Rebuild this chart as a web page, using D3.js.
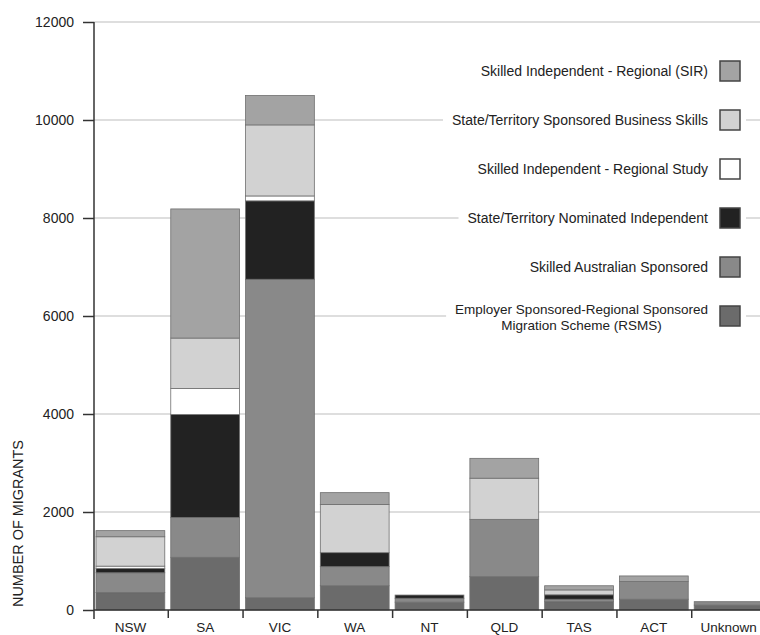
<!DOCTYPE html>
<html>
<head>
<meta charset="utf-8">
<script src="https://cdn.jsdelivr.net/npm/d3@7"></script>
<style>
  html, body { margin: 0; padding: 0; background: #fff; }
  svg { display: block; font-family: "Liberation Sans", Arial, Helvetica, sans-serif; }
</style>
</head>
<body>
<svg id="chart" width="760" height="635"></svg>
<script>
// ---- data ----
const categories = ["NSW", "SA", "VIC", "WA", "NT", "QLD", "TAS", "ACT", "Unknown"];
const seriesNames = [
  "Employer Sponsored-Regional Sponsored Migration Scheme (RSMS)",
  "Skilled Australian Sponsored",
  "State/Territory Nominated Independent",
  "Skilled Independent - Regional Study",
  "State/Territory Sponsored Business Skills",
  "Skilled Independent - Regional (SIR)"
];
const rsms      = [355, 1075,  250, 495, 160,  680, 170, 220, 100];
const sas       = [405,  815, 6500, 390,  80, 1170,  50, 360,  70];
const stni      = [ 90, 2100, 1600, 285,  65,    0,  90,   0,   0];
const regStudy  = [ 45,  530,  100,   0,   0,    0,   0,   0,   0];
const business  = [600, 1030, 1450, 985,   0,  840, 100,   0,   0];
const sir       = [125, 2635,  600, 240,   0,  405,  85, 115,   0];
const yTicks = [0, 2000, 4000, 6000, 8000, 10000, 12000];
const yAxisTitle = "NUMBER OF MIGRANTS";

// ---- styles ----
const colors = ["#6b6b6b", "#898989", "#222222", "#ffffff", "#d2d2d2", "#a3a3a3"];
const legendLines = [
  ["Employer Sponsored-Regional Sponsored", "Migration Scheme (RSMS)"],
  ["Skilled Australian Sponsored"],
  ["State/Territory Nominated Independent"],
  ["Skilled Independent - Regional Study"],
  ["State/Territory Sponsored Business Skills"],
  ["Skilled Independent - Regional (SIR)"]
];

const seriesValues = [rsms, sas, stni, regStudy, business, sir];
const rows = categories.map((c, i) => {
  const r = { cat: c };
  seriesNames.forEach((s, k) => r[s] = seriesValues[k][i]);
  return r;
});

const svg = d3.select("#chart");
const W = 760;

const y = d3.scaleLinear().domain([0, 12000]).range([610, 22]);
const x = d3.scaleBand().domain(categories).range([93, 766]).paddingInner(0.08).paddingOuter(0.04);
const xIdx = d3.scaleLinear().domain([0, categories.length]).range([93, 766]);

// gridlines
svg.append("g").selectAll("line").data(yTicks.filter(d => d > 0)).join("line")
  .attr("x1", 94).attr("x2", W)
  .attr("y1", d => y(d)).attr("y2", d => y(d))
  .attr("stroke", "#bdbdbd").attr("stroke-width", 1.2);

// bars
const stack = d3.stack().keys(seriesNames)(rows);
const gBars = svg.append("g");
stack.forEach((layer, k) => {
  gBars.append("g").selectAll("rect").data(layer.filter(d => d[1] - d[0] > 0)).join("rect")
    .attr("x", d => x(d.data.cat))
    .attr("width", x.bandwidth())
    .attr("y", d => y(d[1]))
    .attr("height", d => y(d[0]) - y(d[1]))
    .attr("fill", colors[k])
    .attr("stroke", "#6f6f6f")
    .attr("stroke-width", 0.8);
});

// y axis
const yAxis = svg.append("g").attr("transform", "translate(94,0)")
  .call(d3.axisLeft(y).tickValues(yTicks).tickFormat(d3.format("d")).tickSize(11).tickPadding(9));
yAxis.select(".domain").remove();
yAxis.selectAll(".tick line").attr("stroke", "#333").attr("stroke-width", 1.5);
yAxis.selectAll(".tick text").attr("font-size", 14).attr("fill", "#222")
  .attr("font-family", "'Liberation Sans', Arial, sans-serif");
svg.append("line").attr("x1", 94).attr("x2", 94).attr("y1", y(12000)).attr("y2", 619)
  .attr("stroke", "#333").attr("stroke-width", 1.5);

// x axis line and boundary ticks
svg.append("line").attr("x1", 94).attr("x2", W).attr("y1", y(0)).attr("y2", y(0))
  .attr("stroke", "#333").attr("stroke-width", 1.5);
const xTickAxis = svg.append("g").attr("transform", `translate(0,${y(0)})`)
  .call(d3.axisBottom(xIdx).tickValues(d3.range(1, categories.length)).tickFormat("").tickSize(8));
xTickAxis.select(".domain").remove();
xTickAxis.selectAll(".tick line").attr("stroke", "#333").attr("stroke-width", 1.5);

const xLabelAxis = svg.append("g").attr("transform", `translate(0,${y(0)})`)
  .call(d3.axisBottom(x).tickSize(0).tickPadding(12));
xLabelAxis.select(".domain").remove();
xLabelAxis.selectAll(".tick text").attr("font-size", 13.5).attr("fill", "#222")
  .attr("font-family", "'Liberation Sans', Arial, sans-serif");

// y axis title
svg.append("text")
  .attr("transform", "translate(23,607) rotate(-90)")
  .attr("text-anchor", "start")
  .attr("font-size", 14)
  .attr("fill", "#222")
  .attr("textLength", 167)
  .attr("lengthAdjust", "spacingAndGlyphs")
  .text(yAxisTitle);

// legend
const legendRight = 708, sqX = 720, sq = 20;
const legendCenters = seriesNames.map((s, k) => y(6000 + k * 1000));
const gLeg = svg.append("g");
seriesNames.forEach((s, k) => {
  const cy = legendCenters[k];
  const lines = legendLines[k];
  const g = gLeg.append("g");
  const bg = g.append("rect").attr("fill", "#fff");
  const txt = g.append("text").attr("fill", "#222");
  if (lines.length === 1) {
    txt.attr("font-size", 14);
    txt.append("tspan").attr("x", legendRight).attr("y", cy).attr("dy", "0.35em")
      .attr("text-anchor", "end").text(lines[0]);
  } else {
    txt.attr("font-size", 13.5);
    const t1 = txt.append("tspan").attr("text-anchor", "middle").attr("y", cy - 7).attr("dy", "0.35em").text(lines[0]);
    const w1 = t1.node().getComputedTextLength();
    const cx = legendRight - w1 / 2;
    t1.attr("x", cx);
    txt.append("tspan").attr("text-anchor", "middle").attr("x", cx).attr("y", cy + 9).attr("dy", "0.35em").text(lines[1]);
  }
  const bb = txt.node().getBBox();
  bg.attr("x", bb.x - 9).attr("y", cy - 15).attr("width", (sqX + sq + 6) - (bb.x - 9)).attr("height", 31);
  g.append("rect").attr("x", sqX).attr("y", cy - sq / 2).attr("width", sq).attr("height", sq)
    .attr("fill", colors[k]).attr("stroke", "#444").attr("stroke-width", 1.5);
});
</script>
</body>
</html>
